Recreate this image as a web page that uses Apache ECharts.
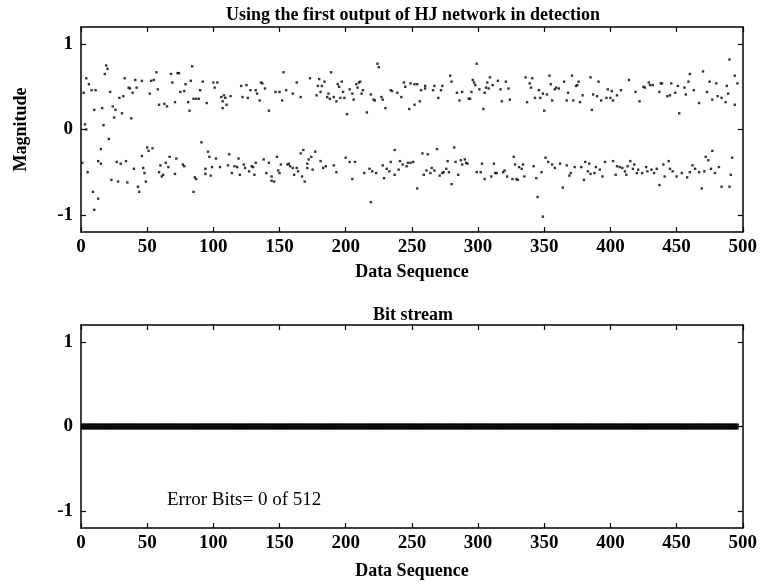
<!DOCTYPE html>
<html>
<head>
<meta charset="utf-8">
<script src="https://cdn.jsdelivr.net/npm/echarts@6/dist/echarts.min.js"></script>
<style>html,body{margin:0;padding:0;background:#fff}#c{width:760px;height:585px}</style>
</head>
<body>
<div id="c"></div>
<script>
// ---- data ----
const xTicks = [0, 50, 100, 150, 200, 250, 300, 350, 400, 450, 500];
const yTicks = [-1, 0, 1];

// HJ network first output: [sequence, magnitude]
const outputSeg1 = [
[2,0.43],[4,0.60],[6,0.53],[8,0.46],[10,0.23],[11,0.46],[16,0.25],[18,0.65],[19,0.75],[20,0.71],[22,0.44],[24,0.27],[25,0.14],[26,0.23],[29,0.37],[31,0.19],[32,0.39],[33,0.60],[36,0.49],[37,0.48],[38,0.13],[39,0.43],[41,0.58],[42,0.49],[46,0.57],[52,0.42],[53,0.57],[55,0.58],[57,0.67],[58,0.47],[59,0.29],[63,0.30],[65,0.27],[68,0.65],[69,0.55],[71,0.32],[73,0.66],[74,0.66],[75,0.44],[78,0.45],[79,0.53],[81,0.32],[82,0.22],[83,0.57],[84,0.74],[85,0.36],[87,0.36],[89,0.36],[90,0.46],[92,0.56],[95,0.31],[100,0.55],[101,0.49],[103,0.55],[106,0.38],[107,0.33],[108,0.40],[109,0.37],[107,0.25],[110,0.29],
[1,-0.39],[3,0.06],[4,0.00],[5,-0.50],[9,-0.73],[10,-0.94],[13,-0.37],[13,-0.81],[15,-0.40],[15,-0.23],[17,0.05],[21,-0.11],[23,-0.59],[27,-0.38],[28,-0.61],[30,-0.40],[34,-0.37],[35,-0.62],[40,-0.46],[43,-0.67],[44,-0.73],[46,-0.31],[47,-0.45],[48,-0.51],[49,-0.61],[50,-0.21],[51,-0.25],[54,-0.22],[59,-0.50],[60,-0.42],[61,-0.55],[62,-0.53],[64,-0.39],[66,-0.44],[67,-0.32],[71,-0.52],[72,-0.34],[77,-0.41],[78,-0.43],[85,-0.73],[86,-0.56],[87,-0.58],[91,-0.15],[94,-0.52],[94,-0.46],[96,-0.26],[97,-0.32],[98,-0.54],[99,-0.44],[102,-0.34],[105,-0.44],[111,-0.42],[112,-0.29],[114,-0.51],[116,-0.43],[118,-0.44],[119,-0.34]
];
const outputSeg2 = [
[113,0.39],[121,0.51],[122,0.38],[125,0.52],[126,0.37],[128,0.46],[132,0.46],[133,0.42],[135,0.34],[136,0.55],[137,0.54],[139,0.48],[142,0.22],[147,0.44],[150,0.44],[152,0.34],[153,0.67],[155,0.46],[160,0.42],[163,0.55],[166,0.38],[173,0.60],[178,0.40],[179,0.51],[180,0.59],[181,0.44],[182,0.51],[184,0.56],[186,0.38],[187,0.42],[188,0.36],[189,0.67],[191,0.38],[193,0.33],[194,0.53],[195,0.50],[196,0.37],[197,0.56],[198,0.44],[199,0.37],[201,0.18],[203,0.47],[205,0.42],[206,0.35],[208,0.53],[209,0.49],[210,0.55],[211,0.56],[212,0.42],[213,0.46],[216,0.20],[219,0.41],[221,0.35],[222,0.34],[224,0.77],[225,0.73],[227,0.38],[228,0.35],[230,0.25],[234,0.46],[235,0.45],[239,0.43],
[120,-0.53],[123,-0.41],[124,-0.45],[127,-0.49],[129,-0.43],[130,-0.44],[131,-0.53],[132,-0.39],[138,-0.35],[140,-0.51],[142,-0.39],[144,-0.55],[144,-0.60],[146,-0.61],[148,-0.32],[149,-0.48],[150,-0.51],[151,-0.41],[156,-0.41],[157,-0.40],[158,-0.43],[160,-0.45],[161,-0.53],[163,-0.45],[164,-0.49],[166,-0.28],[167,-0.55],[168,-0.24],[169,-0.61],[171,-0.40],[171,-0.45],[172,-0.35],[174,-0.32],[175,-0.47],[177,-0.26],[181,-0.37],[183,-0.45],[185,-0.43],[191,-0.42],[193,-0.50],[200,-0.33],[203,-0.38],[205,-0.58],[207,-0.38],[214,-0.51],[218,-0.46],[219,-0.85],[220,-0.49],[223,-0.51],[228,-0.42],[229,-0.57],[231,-0.46],[233,-0.49],[234,-0.38],[237,-0.53],[237,-0.24],[240,-0.47]
];
const outputSeg3 = [
[242,0.38],[244,0.55],[245,0.50],[248,0.24],[249,0.54],[252,0.29],[252,0.53],[254,0.53],[256,0.33],[257,0.46],[260,0.51],[260,0.48],[266,0.46],[267,0.51],[270,0.37],[272,0.46],[273,0.51],[279,0.63],[280,0.56],[284,0.43],[286,0.34],[288,0.44],[293,0.36],[294,0.36],[295,0.44],[296,0.58],[297,0.55],[298,0.52],[299,0.77],[301,0.47],[304,0.24],[305,0.43],[306,0.49],[307,0.55],[308,0.48],[309,0.61],[311,0.52],[315,0.57],[317,0.47],[318,0.33],[321,0.56],[323,0.48],[324,0.35],[336,0.61],[337,0.32],[339,0.54],[341,0.60],[340,0.49],[343,0.37],[346,0.46],[347,0.37],[349,0.42],[350,0.22],[352,0.41],[354,0.63],[355,0.53],[356,0.34],[358,0.47],[359,0.49],[361,0.48],
[241,-0.37],[243,-0.41],[246,-0.43],[247,-0.39],[249,-0.39],[251,-0.38],[254,-0.69],[258,-0.28],[259,-0.53],[261,-0.48],[262,-0.29],[264,-0.51],[265,-0.45],[267,-0.48],[269,-0.23],[271,-0.54],[273,-0.51],[274,-0.50],[276,-0.46],[277,-0.37],[278,-0.50],[280,-0.64],[282,-0.21],[283,-0.38],[285,-0.53],[287,-0.36],[288,-0.41],[290,-0.35],[291,-0.39],[292,-0.40],[299,-0.50],[302,-0.50],[303,-0.40],[305,-0.58],[310,-0.55],[312,-0.40],[313,-0.51],[314,-0.51],[319,-0.50],[320,-0.48],[322,-0.55],[326,-0.58],[327,-0.32],[328,-0.41],[329,-0.58],[330,-0.59],[331,-0.44],[333,-0.46],[334,-0.41],[335,-0.55],[342,-0.43],[344,-0.57],[345,-0.79],[348,-0.50],[349,-1.02],[351,-0.33],[353,-0.38],[356,-0.41],[358,-0.45],[362,-0.40]
];
const outputSeg4 = [
[365,0.56],[367,0.34],[368,0.43],[371,0.63],[372,0.34],[374,0.51],[375,0.52],[376,0.56],[377,0.32],[379,0.40],[385,0.61],[386,0.23],[387,0.41],[390,0.39],[391,0.56],[393,0.34],[397,0.37],[398,0.47],[400,0.37],[401,0.45],[402,0.34],[405,0.40],[408,0.46],[414,0.58],[419,0.44],[422,0.33],[425,0.50],[426,0.49],[429,0.55],[430,0.52],[432,0.52],[437,0.44],[438,0.54],[439,0.54],[443,0.39],[445,0.40],[446,0.54],[449,0.43],[451,0.51],[452,0.19],[456,0.49],[457,0.41],[459,0.56],[460,0.65],[463,0.46],[467,0.31],[470,0.68],[473,0.44],[475,0.56],[477,0.35],[480,0.54],[481,0.39],[484,0.37],[487,0.32],[488,0.51],[489,0.42],[490,0.82],[494,0.63],[494,0.29],[496,0.54],
[364,-0.68],[367,-0.42],[369,-0.54],[370,-0.51],[373,-0.44],[378,-0.44],[380,-0.59],[381,-0.38],[383,-0.49],[384,-0.40],[385,-0.52],[388,-0.51],[389,-0.44],[392,-0.47],[394,-0.55],[396,-0.38],[402,-0.37],[404,-0.53],[405,-0.43],[407,-0.44],[409,-0.45],[411,-0.49],[412,-0.53],[413,-0.43],[415,-0.37],[417,-0.46],[418,-0.41],[420,-0.51],[421,-0.47],[424,-0.51],[427,-0.44],[428,-0.49],[431,-0.47],[433,-0.51],[435,-0.46],[437,-0.65],[440,-0.41],[441,-0.55],[444,-0.37],[445,-0.46],[447,-0.49],[450,-0.55],[454,-0.51],[458,-0.56],[460,-0.50],[462,-0.42],[464,-0.46],[467,-0.50],[469,-0.69],[471,-0.49],[472,-0.32],[474,-0.36],[477,-0.25],[476,-0.46],[479,-0.51],[482,-0.44],[484,-0.67],[490,-0.67],[491,-0.53],[492,-0.33]
];

// detected bit stream errors (all zero)
const bitErrors = [
0,0,0,0,0,0,0,0,0,0,0,0,0,0,0,0,
0,0,0,0,0,0,0,0,0,0,0,0,0,0,0,0,
0,0,0,0,0,0,0,0,0,0,0,0,0,0,0,0,
0,0,0,0,0,0,0,0,0,0,0,0,0,0,0,0,
0,0,0,0,0,0,0,0,0,0,0,0,0,0,0,0,
0,0,0,0,0,0,0,0,0,0,0,0,0,0,0,0,
0,0,0,0,0,0,0,0,0,0,0,0,0,0,0,0,
0,0,0,0,0,0,0,0,0,0,0,0,0,0,0,0,
0,0,0,0,0,0,0,0,0,0,0,0,0,0,0,0,
0,0,0,0,0,0,0,0,0,0,0,0,0,0,0,0,
0,0,0,0,0,0,0,0,0,0,0,0,0,0,0,0,
0,0,0,0,0,0,0,0,0,0,0,0,0,0,0,0,
0,0,0,0,0,0,0,0,0,0,0,0,0,0,0,0,
0,0,0,0,0,0,0,0,0,0,0,0,0,0,0,0,
0,0,0,0,0,0,0,0,0,0,0,0,0,0,0,0,
0,0,0,0,0,0,0,0,0,0,0,0,0,0,0,0,
0,0,0,0,0,0,0,0,0,0,0,0,0,0,0,0,
0,0,0,0,0,0,0,0,0,0,0,0,0,0,0,0,
0,0,0,0,0,0,0,0,0,0,0,0,0,0,0,0,
0,0,0,0,0,0,0,0,0,0,0,0,0,0,0,0,
0,0,0,0,0,0,0,0,0,0,0,0,0,0,0,0,
0,0,0,0,0,0,0,0,0,0,0,0,0,0,0,0,
0,0,0,0,0,0,0,0,0,0,0,0,0,0,0,0,
0,0,0,0,0,0,0,0,0,0,0,0,0,0,0,0,
0,0,0,0,0,0,0,0,0,0,0,0,0,0,0,0,
0,0,0,0,0,0,0,0,0,0,0,0,0,0,0,0,
0,0,0,0,0,0,0,0,0,0,0,0,0,0,0,0,
0,0,0,0,0,0,0,0,0,0,0,0,0,0,0,0,
0,0,0,0,0,0,0,0,0,0,0,0,0,0,0,0,
0,0,0,0,0,0,0,0,0,0,0,0,0,0,0,0,
0,0,0,0,0,0,0,0,0,0,0,0,0,0,0,0
];

const titleTop = 'Using the first output of HJ network in detection';
const titleBottom = 'Bit stream';
const xName = 'Data Sequence';
const yName = 'Magnitude';
const errorNote = 'Error Bits= 0 of 512';

// ---- chart ----
const FONT = '"Liberation Serif", "Times New Roman", serif';
const chart = echarts.init(document.getElementById('c'), null, {renderer: 'canvas'});

function xAx(grid, top, nameGap) {
  return {
    type: 'value', gridIndex: grid, position: top ? 'top' : 'bottom',
    min: 0, max: 500, interval: 50,
    axisLine: {show: true, onZero: false, lineStyle: {color: '#000', width: 1.5}},
    axisTick: {show: true, inside: true, length: 5, lineStyle: {color: '#000', width: 1.2}},
    axisLabel: {show: !top, margin: 6, color: '#000', fontFamily: FONT, fontSize: 19, fontWeight: 'bold',
      showMinLabel: true, showMaxLabel: true},
    splitLine: {show: false},
    name: top ? '' : xName, nameLocation: 'middle', nameGap: nameGap || 0,
    nameTextStyle: {color: '#000', fontFamily: FONT, fontSize: 18, fontWeight: 'bold'}
  };
}
function yAx(grid, right, showName) {
  return {
    type: 'value', gridIndex: grid, position: right ? 'right' : 'left',
    min: -1.2, max: 1.2,
    axisLine: {show: true, onZero: false, lineStyle: {color: '#000', width: 1.5}},
    axisTick: {show: true, inside: true, length: 5, customValues: yTicks, lineStyle: {color: '#000', width: 1.2}},
    axisLabel: {show: !right, margin: 8, customValues: yTicks, color: '#000', fontFamily: FONT, fontSize: 19, fontWeight: 'bold'},
    splitLine: {show: false},
    name: showName ? yName : '', nameLocation: 'middle', nameGap: 51, nameRotate: 90,
    nameTextStyle: {color: '#000', fontFamily: FONT, fontSize: 18, fontWeight: 'bold'}
  };
}

const scatterData = [].concat(outputSeg1, outputSeg2, outputSeg3, outputSeg4);
const bitData = bitErrors.map((v, i) => [i + 1, v]);

chart.setOption({
  animation: false,
  backgroundColor: '#fff',
  grid: [
    {left: 81, right: 15, top: 27, height: 205, containLabel: false},
    {left: 81, right: 15, top: 325, height: 203, containLabel: false}
  ],
  xAxis: [xAx(0, false, 31), xAx(0, true), xAx(1, false, 34), xAx(1, true)],
  yAxis: [yAx(0, false, true), yAx(0, true, false), yAx(1, false, false), yAx(1, true, false)],
  graphic: [
    {type: 'text', x: 413, y: 15, style: {text: titleTop, fill: '#000', font: 'bold 18px ' + FONT, align: 'center', verticalAlign: 'middle'}},
    {type: 'text', x: 413, y: 315, style: {text: titleBottom, fill: '#000', font: 'bold 18px ' + FONT, align: 'center', verticalAlign: 'middle'}},
    {type: 'text', x: 167, y: 500, style: {text: errorNote, fill: '#000', font: '19px ' + FONT, align: 'left', verticalAlign: 'middle'}}
  ],
  series: [
    {type: 'scatter', xAxisIndex: 0, yAxisIndex: 0, data: scatterData, symbol: 'rect', symbolSize: 2.4,
      itemStyle: {color: '#000'}, silent: true},
    {type: 'scatter', xAxisIndex: 2, yAxisIndex: 2, data: bitData, symbol: 'rect', symbolSize: [3, 6],
      itemStyle: {color: '#000'}, silent: true}
  ]
});
</script>
</body>
</html>
